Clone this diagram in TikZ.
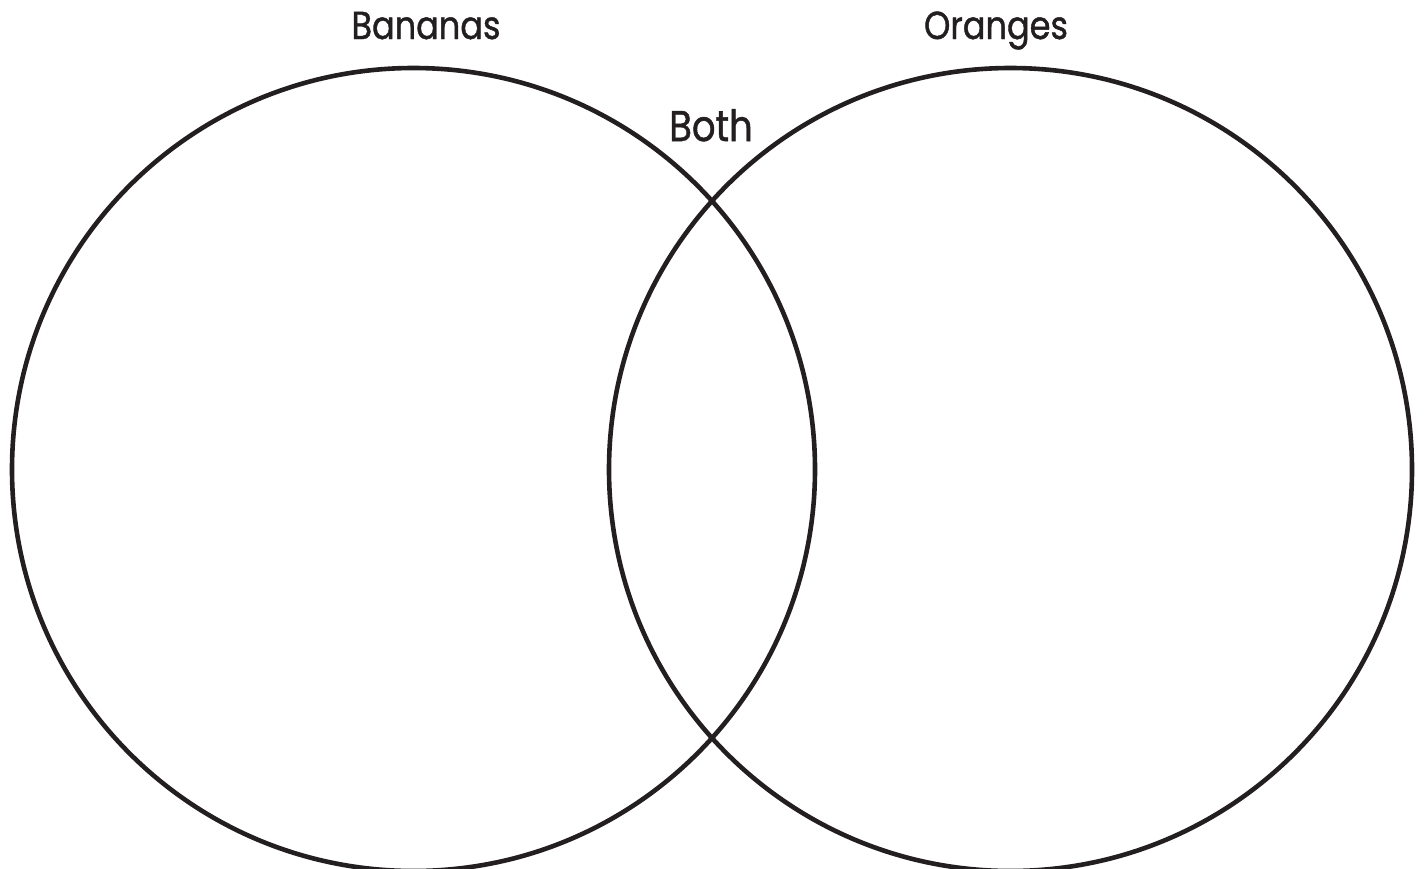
\documentclass[tikz,border=0pt]{standalone}
\usepackage{fontspec}
\setmainfont{Poppins}
\newfontfamily\lblfont[FakeBold=1.2]{Poppins}
\definecolor{ink}{HTML}{231F20}
\begin{document}
\begin{tikzpicture}[x=1pt,y=-1pt,
  ring/.style={draw=ink,line width=4.6pt},
  lbl/.style={text=ink,font=\lblfont\fontsize{39}{40}\selectfont,inner sep=0pt,anchor=base,xscale=0.86}]
\useasboundingbox (0,0) rectangle (1424,868);
\begin{scope}
\clip (0,0) rectangle (1424,868);
\node[ring,circle,minimum size=803pt,inner sep=0pt] (left) at (413.5,469.5) {};
\node[ring,circle,minimum size=803pt,inner sep=0pt] (right) at (1010.5,469.5) {};
\end{scope}
\node[lbl] (bananas) at (426,39) {Bananas};
\node[lbl] (oranges) at (996,39) {Oranges};
\node[lbl,font=\lblfont\fontsize{43}{44}\selectfont] (both) at (711,141) {Both};
\end{tikzpicture}
\end{document}
